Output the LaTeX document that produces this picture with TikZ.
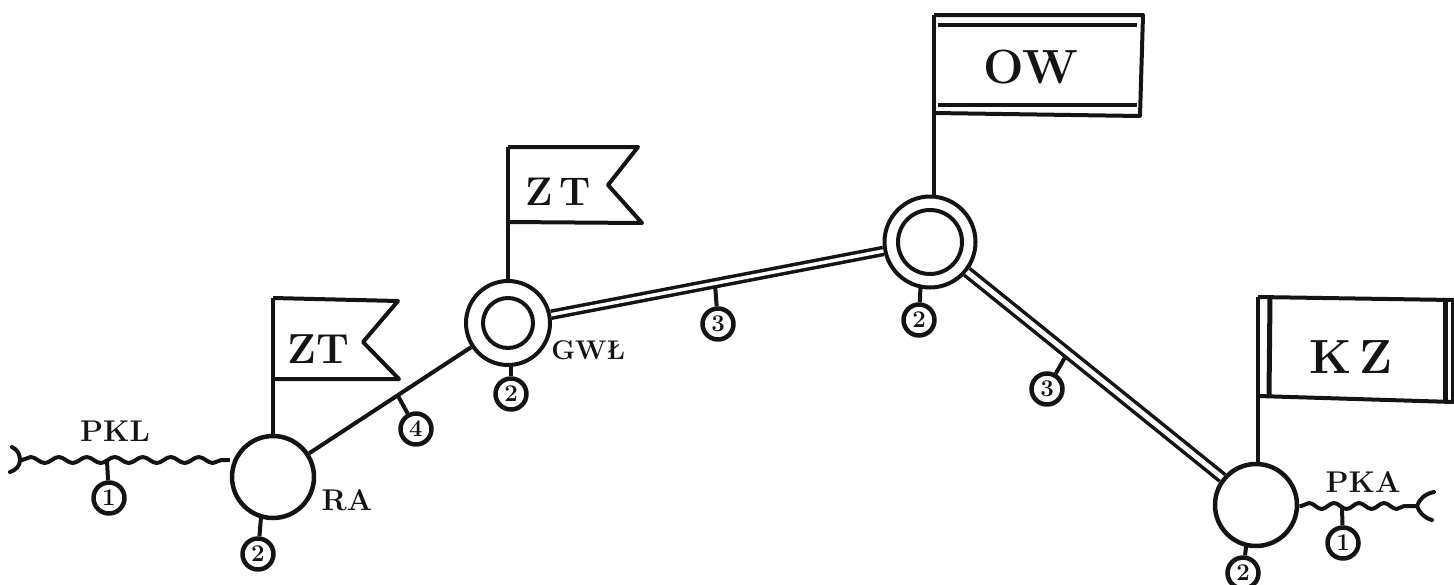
\documentclass[tikz,border=0pt]{standalone}
\usepackage{fontspec}
\usetikzlibrary{decorations.pathmorphing,calc}
\definecolor{ink}{HTML}{141414}
\newcommand{\heavy}{\bfseries\addfontfeature{FakeBold=2}}
\tikzset{
  base/.style={draw=ink,line width=4pt,line join=round},
  hub/.style={base,circle,inner sep=0pt,minimum size=#1,fill=white},
  tag/.style={base,line width=4.5pt,circle,inner sep=0pt,minimum size=31pt,fill=white,font=\heavy\fontsize{24}{24}\selectfont,text=ink},
  lab/.style={inner sep=0pt,text=ink,font=\heavy\fontsize{#1}{#1}\selectfont},
  flagtext/.style={inner sep=0pt,text=ink,font=\heavy\fontsize{#1}{#1}\selectfont},
  twin/.style={draw=ink,line width=3.5pt,double=white,double distance=3.5pt},
  wire/.style={base},
  wavy/.style={base,decorate,decoration={snake,amplitude=3pt,segment length=28pt,pre length=2pt,post length=2pt}},
  stub/.style={base}
}
\begin{document}
\begin{tikzpicture}[x=1pt,y=-1pt]
\useasboundingbox (0,0) rectangle (1454,584);
% stubs lie under lines and hubs
\coordinate (s1a) at (107,461);
\coordinate (s4) at (397,394);
\coordinate (s3a) at (715,284);
\coordinate (s3b) at (1068,352);
\coordinate (s1b) at (1342,508);
\coordinate (s2a) at (262,505);
\coordinate (s2b) at (511,350);
\coordinate (s2c) at (921,275);
\coordinate (s2d) at (1248,530);
\node[tag] (n1a) at (109,498) {1};
\node[tag] (n2a) at (258,554) {2};
\node[tag] (n4) at (416,429) {4};
\node[tag] (n2b) at (511,394) {2};
\node[tag] (n3a) at (718,324) {3};
\node[tag] (n2c) at (919,320) {2};
\node[tag] (n3b) at (1047,389) {3};
\node[tag] (n2d) at (1243,573) {2};
\node[tag] (n1b) at (1343,543) {1};
\draw[stub] (s1a) -- (n1a);
\draw[stub] (s2a) -- (n2a);
\draw[stub] (s4) -- (n4);
\draw[stub] (s2b) -- (n2b);
\draw[stub] (s3a) -- (n3a);
\draw[stub] (s2c) -- (n2c);
\draw[stub] (s3b) -- (n3b);
\draw[stub] (s2d) -- (n2d);
\draw[stub] (s1b) -- (n1b);
% hubs
\node[hub=82pt,line width=4.5pt] (RA) at (273,477) {};
\node[hub=84pt] (GW) at (508,323) {};
\node[hub=50pt] (GWin) at (508,323) {};
\node[hub=91pt] (OW) at (930,242) {};
\node[hub=64pt] (OWin) at (930,242) {};
\node[hub=82pt,line width=4.5pt] (KZ) at (1256,505) {};
% main lines
\draw[wire] (RA) -- (GW);
\draw[twin] (GW) -- (OW);
\draw[twin,double distance=5pt] (OW) -- (KZ);
% flags
\coordinate (f1) at (273,298);
\coordinate (f1b) at (273,379);
\draw[base] (f1) -- (398,301) -- (363,342) -- (399,379) -- (f1b);
\draw[wire] (RA.north) -- (f1);
\node[flagtext=42] (t1) at (318,349) {ZT};
\coordinate (f2) at (508,147);
\coordinate (f2b) at (508,222);
\draw[base] (f2) -- (638,147) -- (608,185) -- (642,223) -- (f2b);
\draw[wire] (GW.north) -- (f2);
\node[flagtext=40] (t2) at (558,192) {Z\,T};
\coordinate (f3) at (934,15);
\coordinate (f3b) at (934,113);
\draw[base] (f3) -- (1143,15) -- (1140,116) -- (f3b);
\draw[wire] (OW.north -| f3) -- (f3);
\draw[base,line width=4.5pt] (938,25) -- (1137,25);
\draw[base,line width=4.5pt] (938,105) -- (1137,105);
\node[flagtext=48] (t3) at (1031,67) {OW};
\coordinate (f4) at (1258,297);
\coordinate (f4b) at (1258,396);
\draw[base] (f4) -- (1453,300) -- (1453,402) -- (f4b);
\draw[wire] (KZ.north -| f4) -- (f4);
\draw[base,line width=5pt] (1270,298) -- (1269,395);
\draw[base,line width=5pt] (1445,300) -- (1445,401);
\node[flagtext=48] (t4) at (1351,357) {K\,Z};
% wavy ends
\coordinate (forkL) at (20,460);
\coordinate (forkR) at (1417,506);
\draw[wavy] (forkL) -- (RA.west |- forkL);
\draw[wavy,decoration={segment length=25pt}] (KZ.east |- forkR) -- (forkR);
\draw[base,line cap=round] (12,447) .. controls (18,450) and (20,455) .. (forkL) .. controls (20,466) and (16,470) .. (10,472);
\draw[base,line cap=round] (1434,492) .. controls (1424,494) and (1419,500) .. (forkR) .. controls (1419,512) and (1424,518) .. (1432,520);
% labels
\node[lab=30] (pkl) at (115,431) {PKL};
\node[lab=30] (ra) at (347,500) {RA};
\node[lab=27] (gwl) at (588,350) {GWŁ};
\node[lab=30] (pka) at (1363,482) {PKA};
\end{tikzpicture}
\end{document}
